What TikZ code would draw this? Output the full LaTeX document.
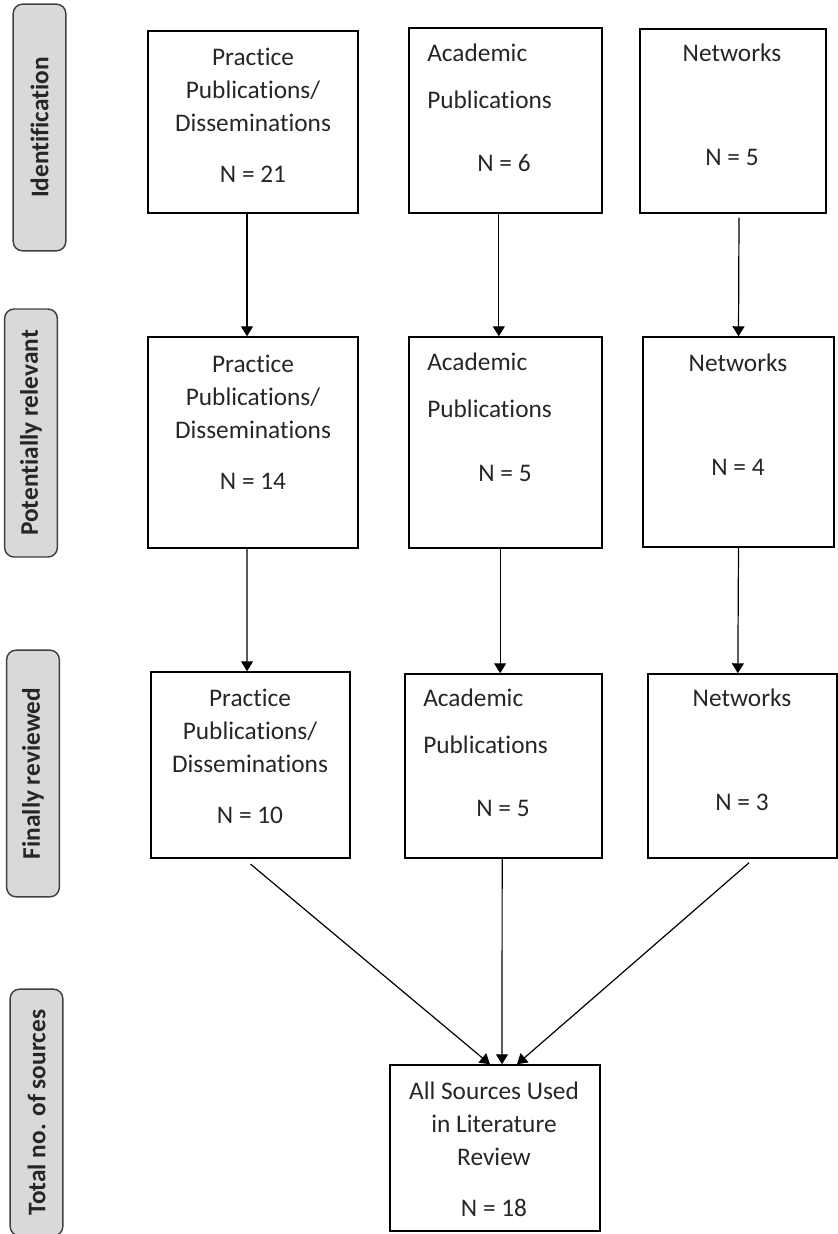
\documentclass[tikz,border=0pt]{standalone}
\usepackage{fontspec}
\setmainfont{Carlito}[Ligatures=NoCommon]
\usetikzlibrary{arrows.meta}
\begin{document}
\begin{tikzpicture}[x=0.75pt, y=-0.75pt,
  >={Triangle[width=9pt,length=7.5pt]},
  box/.style={draw, line width=1.1pt, inner sep=0pt},
  txt/.style={text=black!85, font=\fontsize{19}{24.75}\selectfont, align=center, inner sep=0pt},
  stage/.style={draw=black!75, fill=black!15, rounded corners=7pt, line width=1.1pt, rotate=90, minimum height=39.5pt, text=black!85, font=\fontsize{19}{22}\selectfont\bfseries, inner sep=0pt},
  arr/.style={->, line width=0.9pt}]
\useasboundingbox (0,0) rectangle (838,1234);

% stages on the left
\node[stage, minimum width=185pt] (s1) at (39.5,127.5) {Identification};
\node[stage, minimum width=186pt] (s2) at (31,433) {Potentially relevant};
\node[stage, minimum width=185pt] (s3) at (33,773.5) {Finally reviewed};
\node[stage, minimum width=185pt] (s4) at (36.5,1112.5) {Total no. of sources};

% first row
\node[box, minimum width=157.5pt, minimum height=136.5pt] (pp1) at (253,122) {};
\node[box, minimum width=144.75pt, minimum height=138.75pt] (ap1) at (505.5,120.5) {};
\node[box, minimum width=139.5pt, minimum height=138pt] (nw1) at (733,121) {};
\node[txt] (pp1t) at (253,115) {Practice\\Publications/\\Disseminations\\[13.5pt]N = 21};
\node[txt, align=left, anchor=west] (ap1t) at (427,76.5) {Academic\\[10.5pt]Publications};
\node[txt] (ap1n) at (504,163) {N = 6};
\node[txt] (nw1t) at (732,53) {Networks};
\node[txt] (nw1n) at (732,157) {N = 5};

% second row
\node[box, minimum width=157.5pt, minimum height=158.25pt] (pp2) at (253,442.5) {};
\node[box, minimum width=144.75pt, minimum height=158.25pt] (ap2) at (505.5,442.5) {};
\node[box, minimum width=143.25pt, minimum height=157.5pt] (nw2) at (738.5,442) {};
\node[txt] (pp2t) at (253,422.5) {Practice\\Publications/\\Disseminations\\[13.5pt]N = 14};
\node[txt, align=left, anchor=west] (ap2t) at (427,385) {Academic\\[10.5pt]Publications};
\node[txt] (ap2n) at (505,473) {N = 5};
\node[txt] (nw2t) at (738,363) {Networks};
\node[txt] (nw2n) at (738,467) {N = 4};

% third row
\node[box, minimum width=149.25pt, minimum height=139.5pt] (pp3) at (250.5,765) {};
\node[box, minimum width=147.75pt, minimum height=138pt] (ap3) at (503.5,766) {};
\node[box, minimum width=141.75pt, minimum height=138pt] (nw3) at (742.5,766) {};
\node[txt] (pp3t) at (250,756) {Practice\\Publications/\\Disseminations\\[13.5pt]N = 10};
\node[txt, align=left, anchor=west] (ap3t) at (423,721.5) {Academic\\[10.5pt]Publications};
\node[txt] (ap3n) at (503,808) {N = 5};
\node[txt] (nw3t) at (742,698) {Networks};
\node[txt] (nw3n) at (742,802) {N = 3};

% total
\node[box, minimum width=157.5pt, minimum height=124.5pt] (fin) at (495,1148) {};
\node[txt] (fint) at (494,1149) {All Sources Used\\in Literature\\Review\\[13.5pt]N = 18};

\draw[arr] ([xshift=-4.5pt]pp1.south) -- ([xshift=-4.5pt]pp2.north);
\draw[arr] ([xshift=-5pt]ap1.south) -- ([xshift=-5pt]ap2.north);
\draw[arr] ([xshift=4.5pt,yshift=-3pt]nw1.south) -- (nw2.north);
\draw[arr] ([xshift=-4.5pt]pp2.south) -- ([xshift=-2.6pt]pp3.north);
\draw[arr] ([xshift=-4pt]ap2.south) -- ([xshift=-2.5pt]ap3.north);
\draw[arr] (nw2.south) -- ([xshift=-3.5pt]nw3.north);
\draw[arr] ([yshift=-4pt]pp3.south) -- ([xshift=-3.75pt]fin.north);
\draw[arr] ([xshift=-1pt]ap3.south) -- ([xshift=5.25pt]fin.north);
\draw[arr] ([xshift=4.9pt,yshift=-3pt]nw3.south) -- ([xshift=16.5pt]fin.north);
\end{tikzpicture}
\end{document}
